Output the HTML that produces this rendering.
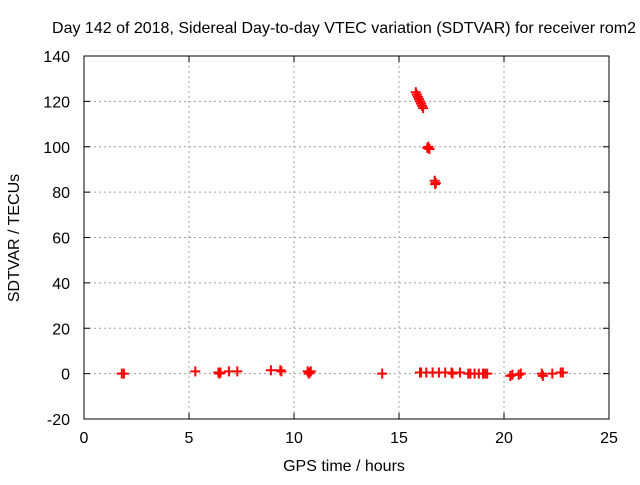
<!DOCTYPE html>
<html><head><meta charset="utf-8"><style>
body{margin:0;background:#fff}
svg text{font-family:"Liberation Sans",sans-serif;font-size:16px;fill:#000}
</style></head><body>
<svg id="chart" width="640" height="480" xmlns="http://www.w3.org/2000/svg">
<text x="344" y="33" text-anchor="middle">Day 142 of 2018, Sidereal Day-to-day VTEC variation (SDTVAR) for receiver rom2</text>
<text x="344" y="471" text-anchor="middle">GPS time / hours</text>
<text transform="translate(19,238) rotate(-90)" text-anchor="middle">SDTVAR / TECUs</text>
<g id="grid"></g><g id="ticks"></g><g id="pts"></g>
<rect x="84" y="56" width="525" height="363" fill="none" stroke="#000" stroke-width="1"/>
</svg>
<script>
const xTicks=[0,5,10,15,20,25];
const yTicks=[-20,0,20,40,60,80,100,120,140];
const hours=[15.8,15.85,15.9,15.95,16.0,16.05,16.1,16.15,16.35,16.4,16.45,16.7,16.75,16.72,
1.8,1.9,5.3,6.4,6.5,6.45,6.9,7.3,8.9,9.35,9.4,10.65,10.75,10.8,10.7,14.2,
16.0,16.05,16.3,16.6,16.9,17.2,17.5,17.55,17.9,18.3,18.4,18.6,18.8,19.0,19.1,19.2,
20.3,20.4,20.7,20.8,21.8,21.85,22.3,22.7,22.8];
const values=[124,123,122,121,120,119,118,117,99.5,100,99,85,84,83.5,
0,0,1,0.5,0.5,0,1,1,1.5,1.5,1,1,0.5,1,0,0,
0.5,0.5,0.5,0.5,0.5,0.5,0.5,0,0.5,0,0,0,0,0,0,0,
-1,-0.5,-0.5,0,0,-1,0,0.5,0.5];
const X=h=>84+h*(525/25);
const Y=v=>419-(v+20)*(363/160);
const NS="http://www.w3.org/2000/svg";
function mk(tag,attrs,parent){const e=document.createElementNS(NS,tag);for(const k in attrs)e.setAttribute(k,attrs[k]);parent.appendChild(e);return e;}
const grid=document.getElementById('grid'),ticks=document.getElementById('ticks'),pts=document.getElementById('pts');
xTicks.forEach(t=>{const x=X(t);
 if(t>0&&t<25){const g=mk('line',{x1:x,x2:x,y1:56,y2:419,stroke:'#a0a0a0','stroke-dasharray':'2,3'},grid);
 
 }
 mk('line',{x1:x,x2:x,y1:419,y2:413,stroke:'#000'},ticks);mk('line',{x1:x,x2:x,y1:56,y2:62,stroke:'#000'},ticks);
 const tx=mk('text',{x:x,y:443,'text-anchor':'middle'},ticks);tx.textContent=t;
 
 });
yTicks.forEach(t=>{const y=Y(t);
 if(t>-20&&t<140){const g=mk('line',{x1:84,x2:609,y1:y,y2:y,stroke:'#a0a0a0','stroke-dasharray':'2,3'},grid);
 
 }
 mk('line',{x1:84,x2:90,y1:y,y2:y,stroke:'#000'},ticks);mk('line',{x1:609,x2:603,y1:y,y2:y,stroke:'#000'},ticks);
 const tx=mk('text',{x:70,y:y+6,'text-anchor':'end'},ticks);tx.textContent=t;
 
 });
hours.forEach((h,i)=>{const x=X(h),y=Y(values[i]);
 const p=mk('path',{d:`M${x-5},${y}H${x+5}M${x},${y-5}V${y+5}`,stroke:'#f00','stroke-width':2,fill:'none'},pts);
 
 });
</script>
</body></html>
